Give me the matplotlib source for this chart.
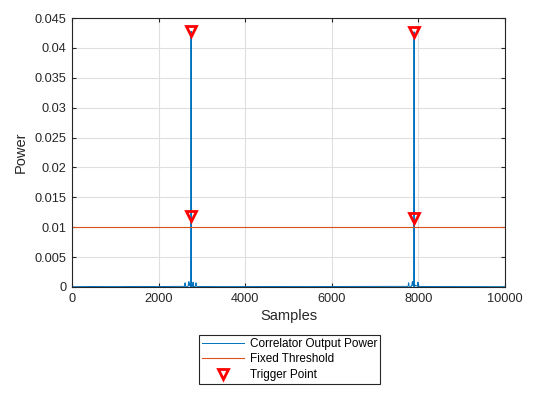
import matplotlib.pyplot as plt

# correlator output power (sparse samples)
samples = [0, 500, 1000, 1500, 2000, 2400, 2600, 2608, 2612, 2620, 2680, 2695, 2700,
           2705, 2712, 2720, 2730, 2738, 2744, 2747, 2748, 2749, 2750, 2755, 2765,
           2780, 2790, 2795, 2800, 2810, 2850, 2860, 2864, 2868, 2880, 3000, 3500,
           4500, 5500, 6500, 7500, 7760, 7770, 7776, 7782, 7800, 7840, 7855, 7860,
           7866, 7875, 7885, 7894, 7897, 7898, 7899, 7900, 7905, 7915, 7930, 7980,
           7986, 7990, 7994, 8010, 8100, 9000, 10000]
power = [0.00005, 0.00008, 0.00006, 0.00009, 0.00007, 0.0001, 0.0001, 0.0006, 0.0007,
         0.0001, 0.0001, 0.0008, 0.0009, 0.0003, 0.0006, 0.0002, 0.0005, 0.0001, 0.0004,
         0.0001, 0.0119, 0.0428, 0.0002, 0.0005, 0.0001, 0.0004, 0.0001, 0.0008, 0.0002,
         0.0001, 0.0001, 0.0006, 0.0007, 0.0003, 0.0001, 0.00008, 0.00006, 0.00008,
         0.00007, 0.00009, 0.0001, 0.0001, 0.0005, 0.0007, 0.0002, 0.0001, 0.0001, 0.0006,
         0.0009, 0.0003, 0.0007, 0.0002, 0.0005, 0.0001, 0.0116, 0.0427, 0.0002, 0.0006,
         0.0001, 0.0003, 0.0001, 0.0006, 0.0008, 0.0004, 0.0001, 0.00008, 0.00007,
         0.00005]

threshold = 0.01
trig_x = [2748, 2748, 7898, 7898]
trig_y = [0.0428, 0.0119, 0.0427, 0.0116]

plt.rcParams['font.family'] = ['Liberation Sans', 'DejaVu Sans']

fig = plt.figure(figsize=(5.6, 4.2), dpi=100)
ax = fig.add_axes([0.1286, 0.3167, 0.7732, 0.6403])

ax.plot(samples, power, color='#0072BD', lw=0.7, label='Correlator Output Power')
ax.axhline(threshold, color='#D95319', lw=0.8, label='Fixed Threshold')
ax.plot(trig_x, trig_y, 'v', color='red', mfc='none', mew=2, ms=7,
        label='Trigger Point', clip_on=False)

ax.set_xlim(0, 10000)
ax.set_ylim(0, 0.045)
ax.set_xticks(range(0, 10001, 2000))
ax.set_yticks([i * 0.005 for i in range(10)])
ax.set_yticklabels(['0', '0.005', '0.01', '0.015', '0.02', '0.025', '0.03', '0.035', '0.04', '0.045'])
ax.grid(True, color='#dfdfdf', lw=0.8)
ax.set_axisbelow(True)
ax.tick_params(direction='in', top=True, right=True, labelsize=9.2, length=3,
               colors='#262626', pad=4)
for s in ax.spines.values():
    s.set_color('#262626')
    s.set_linewidth(0.8)
ax.set_xlabel('Samples', fontsize=10.5, color='#262626', labelpad=3)
ax.set_ylabel('Power', fontsize=10.5, color='#262626', labelpad=5)

leg = fig.legend(loc='upper center', bbox_to_anchor=(0.517, 0.2024), fontsize=8.5,
                 fancybox=False, framealpha=1, edgecolor='#262626',
                 borderpad=0.25, labelspacing=0.3, handlelength=3.6, handletextpad=0.5,
                 borderaxespad=0)
leg.get_frame().set_linewidth(0.8)

fig.savefig('out.png', dpi=100)
